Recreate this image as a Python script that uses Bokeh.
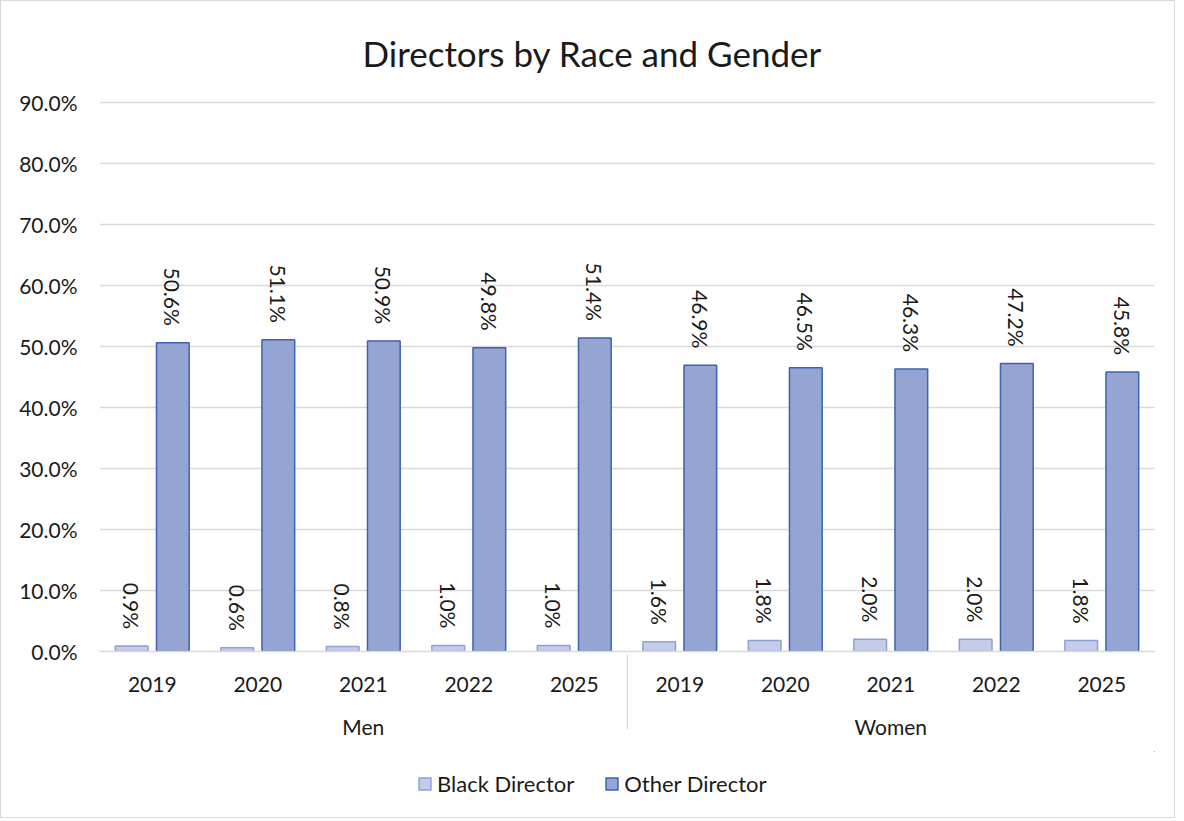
import math
from bokeh.plotting import figure
from bokeh.layouts import column
from bokeh.models import FactorRange, ColumnDataSource, NumeralTickFormatter, Legend, LegendItem, FixedTicker, Range1d
from bokeh.transform import dodge
from bokeh.core.properties import value
from bokeh.embed import file_html
from bokeh.resources import INLINE

genders = ["Men", "Women"]
years = ["2019", "2020", "2021", "2022", "2025"]
black_director = [0.9, 0.6, 0.8, 1.0, 1.0, 1.6, 1.8, 2.0, 2.0, 1.8]
other_director = [50.6, 51.1, 50.9, 49.8, 51.4, 46.9, 46.5, 46.3, 47.2, 45.8]
y_ticks = [0, 10, 20, 30, 40, 50, 60, 70, 80, 90]
series_names = ["Black Director", "Other Director"]

factors = [(g, y) for g in genders for y in years]

FONT = "Lato"
TXT = "#1a1a1a"
FILLS = ["#c4cce9", "#94a5d4"]
LINES = ["#8fa1d4", "#3d62b0"]

src = ColumnDataSource(dict(
    x=factors,
    black=[v / 100 for v in black_director],
    other=[v / 100 for v in other_director],
    black_lbl=[f"{v:.1f}%" for v in black_director],
    other_lbl=[f"{v:.1f}%" for v in other_director],
))

p = figure(frame_width=1055, frame_height=550,
           x_range=FactorRange(*factors, range_padding=0, group_padding=0, factor_padding=0),
           y_range=(0, 0.9015), output_backend="svg", toolbar_location=None,
           min_border_left=98, min_border_right=20, min_border_top=94, min_border_bottom=100)

p.title.text = "Directors by Race and Gender"
p.title.align = "left"
p.title.offset = 263
p.title.text_font = FONT
p.title.text_font_size = "35px"
p.title.text_font_style = "normal"
p.title.text_color = TXT
p.title.standoff = 56

off = 0.195
w = 0.31
p.vbar(x=dodge("x", -off, range=p.x_range), top="black", width=w, source=src,
       fill_color=FILLS[0], line_color=LINES[0], line_width=1.5)
p.vbar(x=dodge("x", off, range=p.x_range), top="other", width=w, source=src,
       fill_color=FILLS[1], line_color=LINES[1], line_width=1.5)

for col, lbl, o in (("black", "black_lbl", -off), ("other", "other_lbl", off)):
    p.text(x=dodge("x", o, range=p.x_range), y=col, text=lbl, source=src,
           angle=-math.pi / 2, text_align="right", text_baseline="middle",
           y_offset=-17, text_font=value(FONT), text_font_size="21px", text_color=TXT)

p.yaxis.ticker = FixedTicker(ticks=[t / 100 for t in y_ticks])
p.yaxis.formatter = NumeralTickFormatter(format="0.0%")
p.yaxis.axis_line_color = None
p.yaxis.major_tick_line_color = None
p.yaxis.minor_tick_line_color = None
p.yaxis.major_label_text_font = FONT
p.yaxis.major_label_text_font_size = "21px"
p.yaxis.major_label_text_color = TXT
p.yaxis.major_label_standoff = 16

p.xaxis.axis_line_color = "#d9d9d9"
p.xaxis.axis_line_width = 1.5
p.xaxis.major_tick_line_color = None
p.xaxis.minor_tick_line_color = None
p.xaxis.major_label_text_font = FONT
p.xaxis.major_label_text_font_size = "21px"
p.xaxis.major_label_text_color = TXT
p.xaxis.major_label_standoff = 19
p.xaxis.group_text_font = FONT
p.xaxis.group_text_font_size = "21px"
p.xaxis.group_text_font_style = "normal"
p.xaxis.group_text_color = TXT
p.xaxis.separator_line_color = "#d9d9d9"
p.xaxis.separator_line_width = 1.5

p.xgrid.grid_line_color = None
p.ygrid.grid_line_color = "#d9d9d9"
p.ygrid.grid_line_width = 1.5
p.outline_line_color = None

# legend strip below the chart (series swatches sit outside the strip's visible range)
p2 = figure(width=1173, height=66, output_backend="svg", toolbar_location=None,
            x_range=Range1d(0, 1), y_range=Range1d(0, 1), min_border=0)
p2.axis.visible = False
p2.grid.visible = False
p2.outline_line_color = None
items = []
for name, fc, lc in zip(series_names, FILLS, LINES):
    r = p2.vbar(x=[5], top=[5], bottom=[4], width=0.1, fill_color=fc, line_color=lc, line_width=1.5)
    items.append(LegendItem(label=name, renderers=[r]))
legend = Legend(items=items, orientation="horizontal", location=(318, 20),
                label_text_font=FONT, label_text_font_size="22px", label_text_color=TXT,
                glyph_width=15, glyph_height=15, spacing=30, border_line_color=None,
                background_fill_alpha=0, margin=0, padding=2)
p2.add_layout(legend, "center")

layout = column(p, p2, spacing=0, styles={"border": "1.5px solid #d9d9d9"})

open("out.html", "w").write(file_html(layout, INLINE))
